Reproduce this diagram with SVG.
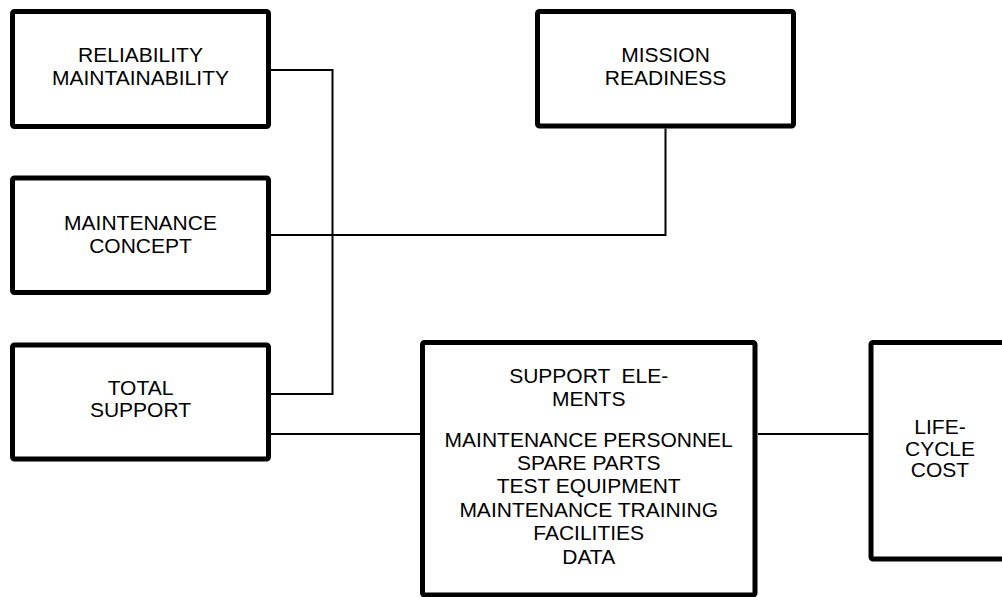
<svg xmlns="http://www.w3.org/2000/svg" width="1002" height="597" viewBox="0 0 1002 597">
  <style>
    .box { fill: #ffffff; stroke: #000000; stroke-width: 5; }
    .wire { fill: none; stroke: #000000; stroke-width: 2; }
    .label { font-family: "Liberation Sans", Arial, sans-serif; font-size: 21px; fill: #000000; text-anchor: middle; }
  </style>
  <rect width="1002" height="597" fill="#ffffff"/>

  <g id="connectors">
    <path class="wire" d="M271,70 H332.5 V394 H271"/>
    <path class="wire" d="M271,235 H665.5 V128.5"/>
    <path class="wire" d="M271,434 H420"/>
    <path class="wire" d="M758,434 H868.5"/>
  </g>

  <g id="reliability">
    <rect class="box" x="12.5" y="11.5" width="256" height="115" rx="2"/>
    <text class="label" x="140.5" y="61.7">RELIABILITY</text>
    <text class="label" x="140.5" y="85">MAINTAINABILITY</text>
  </g>

  <g id="mission-readiness">
    <rect class="box" x="537.5" y="11.5" width="256" height="114.5" rx="2"/>
    <text class="label" x="665.5" y="62.3">MISSION</text>
    <text class="label" x="665.5" y="85">READINESS</text>
  </g>

  <g id="maintenance-concept">
    <rect class="box" x="12.5" y="178" width="256" height="114.5" rx="2"/>
    <text class="label" x="140.5" y="230">MAINTENANCE</text>
    <text class="label" x="140.5" y="252.7">CONCEPT</text>
  </g>

  <g id="total-support">
    <rect class="box" x="12.5" y="345" width="256" height="114" rx="2"/>
    <text class="label" x="140.5" y="395">TOTAL</text>
    <text class="label" x="140.5" y="417.3">SUPPORT</text>
  </g>

  <g id="support-elements">
    <rect class="box" x="422.5" y="342.5" width="332.5" height="252.5" rx="2"/>
    <text class="label" x="588.7" y="382.7" xml:space="preserve">SUPPORT  ELE-</text>
    <text class="label" x="588.7" y="405.7">MENTS</text>
    <text class="label" x="588.7" y="446.6">MAINTENANCE PERSONNEL</text>
    <text class="label" x="588.7" y="469.9">SPARE PARTS</text>
    <text class="label" x="588.7" y="493.3">TEST EQUIPMENT</text>
    <text class="label" x="588.7" y="516.6">MAINTENANCE TRAINING</text>
    <text class="label" x="588.7" y="540">FACILITIES</text>
    <text class="label" x="588.7" y="563.6">DATA</text>
  </g>

  <g id="life-cycle-cost">
    <rect class="box" x="871" y="342.5" width="150" height="216.5" rx="2"/>
    <text class="label" x="940" y="434">LIFE-</text>
    <text class="label" x="940" y="455.7">CYCLE</text>
    <text class="label" x="940" y="477.3">COST</text>
  </g>
</svg>
